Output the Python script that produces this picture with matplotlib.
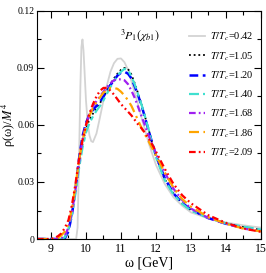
import matplotlib
matplotlib.use("Agg")
import matplotlib.pyplot as plt
from matplotlib.ticker import MultipleLocator

plt.rcParams['font.family'] = ['Liberation Serif', 'DejaVu Serif']
plt.rcParams['mathtext.fontset'] = 'stix'

# ---------------- data ----------------
omega_T0 = [8.6, 9.6, 9.72, 9.76, 9.8, 9.84, 9.87, 9.9, 9.93, 9.96, 10.0, 10.05,
            10.1, 10.15, 10.2, 10.3, 10.4, 10.5, 10.6, 10.7, 10.8, 10.9, 11.0,
            11.1, 11.2, 11.3, 11.4, 11.5, 11.6, 11.8, 12.0, 12.25, 12.5, 12.75,
            13.0, 13.5, 14.0, 14.5, 15.0]
rho_042 = [0.0, 0.0, 0.0, 0.006, 0.040, 0.080, 0.101, 0.105, 0.099, 0.088, 0.073, 0.061,
           0.0545, 0.0515, 0.051, 0.0555, 0.064, 0.073, 0.081, 0.088, 0.0925, 0.0948, 0.095,
           0.093, 0.089, 0.083, 0.0765, 0.070, 0.063, 0.050, 0.039, 0.029, 0.022, 0.0175,
           0.014, 0.0108, 0.0087, 0.0072, 0.006]

omega = [8.6, 9.0, 9.1, 9.2, 9.3, 9.4, 9.5, 9.6, 9.7, 9.8, 9.9, 10.0, 10.1, 10.2,
         10.3, 10.4, 10.5, 10.6, 10.7, 10.8, 10.9, 11.0, 11.1, 11.2, 11.3, 11.4,
         11.5, 11.6, 11.7, 11.8, 11.9, 12.0, 12.25, 12.5, 12.75, 13.0, 13.5, 14.0,
         14.5, 15.0]
rho_105 = [0, 0, 0, 0, 0, 0.001, 0.005, 0.013, 0.025, 0.038, 0.050, 0.058, 0.063, 0.066,
           0.069, 0.0715, 0.0745, 0.078, 0.0815, 0.0845, 0.087, 0.089, 0.090, 0.0895, 0.0865, 0.0815,
           0.076, 0.070, 0.0635, 0.057, 0.050, 0.0435, 0.0315, 0.024, 0.0188, 0.0152, 0.0111, 0.0082,
           0.0063, 0.0048]
rho_120 = [0, 0, 0, 0, 0, 0.0005, 0.004, 0.013, 0.026, 0.042, 0.054, 0.061, 0.0655, 0.068,
           0.070, 0.072, 0.075, 0.078, 0.081, 0.0835, 0.086, 0.0875, 0.088, 0.087, 0.0845, 0.080,
           0.075, 0.0695, 0.063, 0.0565, 0.050, 0.044, 0.032, 0.024, 0.019, 0.0155, 0.011, 0.008,
           0.006, 0.0045]
rho_140 = [0, 0, 0, 0, 0, 0.001, 0.005, 0.013, 0.024, 0.037, 0.048, 0.056, 0.061, 0.0645,
           0.0675, 0.070, 0.073, 0.0765, 0.080, 0.083, 0.086, 0.088, 0.0895, 0.089, 0.0855, 0.081,
           0.0755, 0.070, 0.0635, 0.057, 0.0495, 0.043, 0.031, 0.0235, 0.0185, 0.015, 0.011, 0.0082,
           0.0065, 0.005]
rho_168 = [0, 0, 0, 0, 0.0005, 0.002, 0.006, 0.014, 0.026, 0.040, 0.052, 0.060, 0.066, 0.070,
           0.0725, 0.075, 0.0775, 0.080, 0.082, 0.0835, 0.084, 0.084, 0.0835, 0.0815, 0.078, 0.074,
           0.069, 0.064, 0.059, 0.054, 0.0495, 0.045, 0.035, 0.0265, 0.0205, 0.016, 0.011, 0.008,
           0.0055, 0.004]
rho_186 = [0, 0, 0, 0.0005, 0.002, 0.004, 0.008, 0.016, 0.028, 0.041, 0.052, 0.059, 0.065, 0.069,
           0.072, 0.0745, 0.077, 0.0785, 0.0795, 0.0795, 0.079, 0.0775, 0.0755, 0.073, 0.070, 0.066,
           0.062, 0.058, 0.0545, 0.051, 0.0475, 0.044, 0.035, 0.027, 0.021, 0.017, 0.0115, 0.008,
           0.0055, 0.004]
rho_209 = [0, 0, 0.0005, 0.0015, 0.003, 0.006, 0.010, 0.018, 0.029, 0.042, 0.052, 0.060, 0.066, 0.071,
           0.075, 0.078, 0.0795, 0.0795, 0.078, 0.076, 0.0735, 0.071, 0.069, 0.067, 0.065, 0.0625,
           0.060, 0.058, 0.0555, 0.0525, 0.0495, 0.046, 0.037, 0.029, 0.023, 0.0188, 0.0125, 0.0085,
           0.0055, 0.0038]

labels = [r'$T/T_c$=0.42', r'$T/T_c$=1.05', r'$T/T_c$=1.20', r'$T/T_c$=1.40',
          r'$T/T_c$=1.68', r'$T/T_c$=1.86', r'$T/T_c$=2.09']
colors = ['#d3d3d3', '#000000', '#0000ff', '#40e0d0', '#a020f0', '#ffa500', '#ff0000']

xticks = [9, 10, 11, 12, 13, 14, 15]
xtick_labels = ['9', '10', '11', '12', '13', '14', '15']
yticks = [0, 0.03, 0.06, 0.09, 0.12]
ytick_labels = ['0', '0.03', '0.06', '0.09', '0.12']

# ---------------- plot ----------------
fig = plt.figure(figsize=(2.66, 2.73), dpi=100)
ax = fig.add_axes([0.139, 0.1245, 0.842, 0.8355])

styles = ['-', (0, (1, 1.6)), (0, (3.5, 1.8)), (0, (4.5, 1.8, 2, 1.8)),
          (0, (3, 1.4, 0.8, 1.4)), (0, (4.5, 2, 1, 2)), (0, (3, 1.4, 0.8, 1.4, 0.8, 1.4))]
widths = [1.3, 1.3, 1.8, 1.6, 1.6, 1.6, 1.6]

series = [(omega_T0, rho_042), (omega, rho_105), (omega, rho_120), (omega, rho_140),
          (omega, rho_168), (omega, rho_186), (omega, rho_209)]
for (xs, ys), lab, c, ls, lw in zip(series, labels, colors, styles, widths):
    ax.plot(xs, ys, color=c, ls=ls, lw=lw, label=lab)

ax.set_xlim(8.6, 15)
ax.set_ylim(0, 0.12)
ax.set_xticks(xticks, labels=xtick_labels)
ax.set_yticks(yticks, labels=ytick_labels)
ax.xaxis.set_minor_locator(MultipleLocator(0.5))
ax.yaxis.set_minor_locator(MultipleLocator(0.015))
ax.tick_params(which='both', direction='in', top=True, right=True)
ax.tick_params(axis='x', labelsize=8.5, pad=3)
ax.tick_params(axis='y', labelsize=7, pad=2)
ax.tick_params(which='major', length=5, width=0.8)
ax.tick_params(which='minor', length=3, width=0.8)

ax.set_xlabel('ω [GeV]', fontsize=10, labelpad=1)
ax.set_ylabel('ρ(ω)/$M^4$', fontsize=9, va='center')
ax.yaxis.set_label_coords(-0.127, 0.5)

ax.text(11.55, 0.1075, r'$^{3}P_{1}(\chi_{b1})$', fontsize=8.5, ha='center', va='center')

ax.legend(loc='upper right', frameon=False, fontsize=7.5, handlelength=1.5,
          handletextpad=0.5, labelspacing=0.65, borderaxespad=0.3,
          bbox_to_anchor=(1.0, 0.945))

fig.savefig('out.png', dpi=100)
